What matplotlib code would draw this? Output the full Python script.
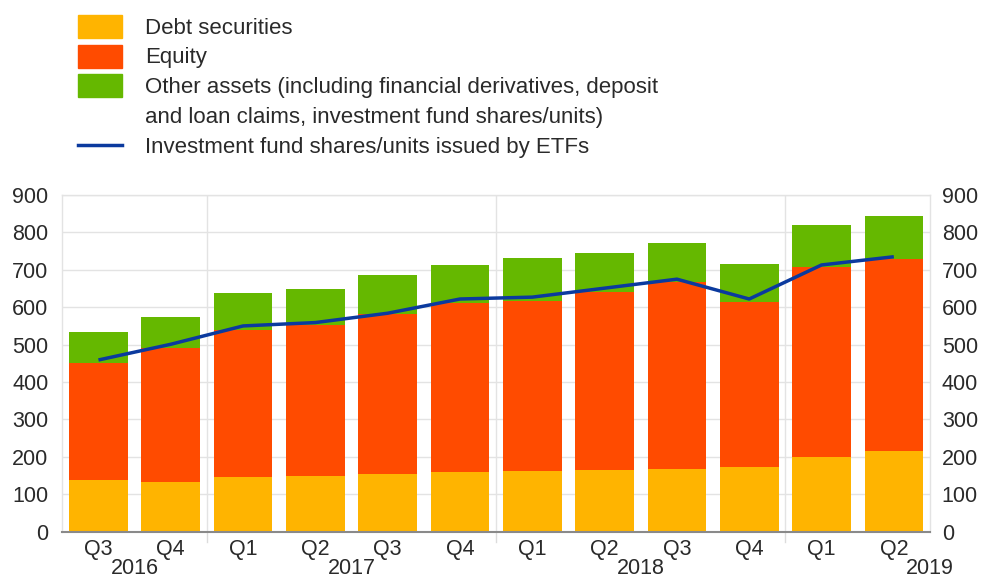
import matplotlib
matplotlib.use("Agg")
import matplotlib.pyplot as plt
from matplotlib.patches import Rectangle
from matplotlib.lines import Line2D
import matplotlib.transforms as mtransforms

plt.rcParams['font.family'] = ['Liberation Sans', 'DejaVu Sans']

quarters = ["Q3", "Q4", "Q1", "Q2", "Q3", "Q4", "Q1", "Q2", "Q3", "Q4", "Q1", "Q2"]
years = [2016, 2016, 2017, 2017, 2017, 2017, 2018, 2018, 2018, 2018, 2019, 2019]
debt = [138, 134, 145, 150, 153, 159, 161, 165, 168, 174, 200, 216]
equity_top = [452, 490, 539, 552, 581, 612, 617, 640, 668, 615, 707, 728]
total = [533, 573, 639, 648, 686, 713, 731, 744, 773, 716, 820, 844]
etf = [459, 501, 550, 559, 584, 622, 627, 651, 675, 622, 713, 735]

equity = [e - d for e, d in zip(equity_top, debt)]
other = [t - e for t, e in zip(total, equity_top)]

C_DEBT = "#FFB400"
C_EQ = "#FF4B00"
C_OTH = "#65B800"
C_LINE = "#0B3A9E"
TXT = "#2a2a2a"
GRID = "#e3e3e3"
FS_TICK = 15.5
FS_LEG = 16

fig = plt.figure(figsize=(9.83, 5.79), dpi=100)
ax = fig.add_axes([62.3/983, 1-531.7/579, (930-62.3)/983, (531.7-195)/579])

x = list(range(len(quarters)))
w = 0.81
ax.bar(x, debt, width=w, color=C_DEBT, zorder=2)
ax.bar(x, equity, width=w, bottom=debt, color=C_EQ, zorder=2)
ax.bar(x, other, width=w, bottom=equity_top, color=C_OTH, zorder=2)
ax.plot(x, etf, color=C_LINE, lw=2.5, zorder=3, solid_capstyle='butt')

ax.set_xlim(-0.5, len(x) - 0.5)
ax.set_ylim(0, 900)
ax.set_yticks(range(0, 901, 100))
ax.yaxis.grid(True, color=GRID, lw=1, zorder=0)
ax.tick_params(axis='y', length=0, labelsize=FS_TICK, colors=TXT, pad=10)
ax.set_xticks(x)
ax.set_xticklabels(quarters)
ax.tick_params(axis='x', length=0, labelsize=FS_TICK, colors=TXT, pad=5)

ax2 = ax.twinx()
ax2.set_ylim(0, 900)
ax2.set_yticks(range(0, 901, 100))
ax2.tick_params(axis='y', length=0, labelsize=FS_TICK, colors=TXT, pad=8.5)
for s in ax2.spines.values():
    s.set_visible(False)

trans = mtransforms.blended_transform_factory(ax.transData, ax.transAxes)

# year separators
for i in range(1, len(years)):
    if years[i] != years[i-1]:
        ax.axvline(i - 0.5, color=GRID, lw=1, zorder=0)
        ax.plot([i - 0.5, i - 0.5], [0, -0.03], transform=trans,
                color="#dcdcdc", lw=1, clip_on=False)

for s in ['left', 'top', 'right']:
    ax.spines[s].set_color(GRID)
    ax.spines[s].set_linewidth(1)
ax.spines['bottom'].set_color("#8a8a8a")
ax.spines['bottom'].set_linewidth(1.5)
ax.spines['bottom'].set_zorder(4)

# year labels
uniq = []
for y in years:
    if y not in uniq:
        uniq.append(y)
for yr in uniq:
    idx = [i for i, v in enumerate(years) if v == yr]
    if yr == uniq[-1] and len(idx) < 4:
        pos = idx[-1] + 0.5
    else:
        pos = sum(idx) / len(idx)
    ax.text(pos, -(573.5 - 531.7) / (531.7 - 195), str(yr), transform=trans,
            ha='center', va='baseline', fontsize=FS_TICK, color=TXT)

# legend
def fx(px):
    return px / 983
def fy(py):
    return 1 - py / 579

for col, top in [(C_DEBT, 15), (C_EQ, 45), (C_OTH, 74)]:
    fig.patches.append(Rectangle((fx(78), fy(top + 23)), fx(122) - fx(78), 23/579,
                                 transform=fig.transFigure, color=col))

fig.text(fx(145), fy(28), "Debt securities", ha='left', va='center', fontsize=FS_LEG, color=TXT)
fig.text(fx(145), fy(57), "Equity", ha='left', va='center', fontsize=FS_LEG, color=TXT)
fig.text(fx(145), fy(87), "Other assets (including financial derivatives, deposit", ha='left', va='center', fontsize=FS_LEG, color=TXT)
fig.text(fx(145), fy(117), "and loan claims, investment fund shares/units)", ha='left', va='center', fontsize=FS_LEG, color=TXT)
fig.lines.append(Line2D([fx(78), fx(122)], [fy(145), fy(145)], transform=fig.transFigure,
                        color=C_LINE, lw=2.5))
fig.text(fx(145), fy(147), "Investment fund shares/units issued by ETFs", ha='left', va='center', fontsize=FS_LEG, color=TXT)

fig.savefig("out.png", dpi=100, facecolor="white")
